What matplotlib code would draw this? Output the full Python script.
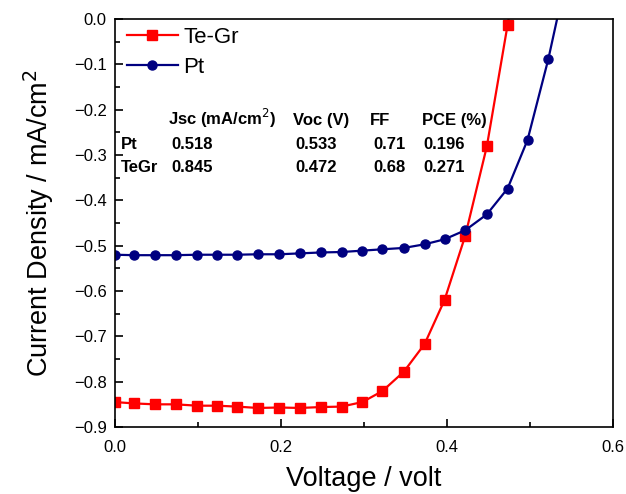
import numpy as np
import matplotlib.pyplot as plt
from matplotlib.ticker import MultipleLocator

plt.rcParams['font.family'] = ['Liberation Sans', 'DejaVu Sans']

# Voltage (V)
V = [0.000, 0.023, 0.048, 0.073, 0.099, 0.123, 0.147, 0.172, 0.198, 0.223,
     0.248, 0.273, 0.298, 0.322, 0.348, 0.373, 0.397, 0.422, 0.448, 0.473,
     0.497, 0.522, 0.547]

# Current density (mA/cm2)
J_tegr = [-0.845, -0.848, -0.850, -0.850, -0.853, -0.853, -0.855, -0.858, -0.857, -0.858,
          -0.856, -0.855, -0.845, -0.821, -0.778, -0.717, -0.620, -0.478, -0.281, -0.013,
          0.25]
J_pt = [-0.520, -0.521, -0.521, -0.521, -0.520, -0.520, -0.520, -0.519, -0.519, -0.517,
        -0.515, -0.514, -0.511, -0.508, -0.505, -0.497, -0.486, -0.466, -0.431, -0.374,
        -0.267, -0.089, 0.12]

table_cols = ['Jsc (mA/cm$^2$)', 'Voc (V)', 'FF', 'PCE (%)']
table_rows = ['Pt', 'TeGr']
table_vals = [['0.518', '0.533', '0.71', '0.196'],
              ['0.845', '0.472', '0.68', '0.271']]

fig = plt.figure(figsize=(6.26, 4.94), dpi=100)
ax = fig.add_axes([115/626, 1-427/494, 498/626, 408/494])

ax.plot(V[:len(J_tegr)], J_tegr, '-s', color='#ff0000', lw=1.6, ms=6.5, label='Te-Gr')
ax.plot(V[:len(J_pt)], J_pt, '-o', color='#000080', lw=1.6, ms=6.5, label='Pt')

ax.set_xlim(0, 0.6)
ax.set_ylim(-0.9, 0.0)
ax.xaxis.set_major_locator(MultipleLocator(0.2))
ax.xaxis.set_minor_locator(MultipleLocator(0.1))
ax.yaxis.set_major_locator(MultipleLocator(0.1))
ax.yaxis.set_minor_locator(MultipleLocator(0.05))
ax.tick_params(which='both', direction='in', top=False, right=False, labelsize=12, width=1.2)
ax.tick_params(which='major', length=6)
ax.tick_params(which='minor', length=3.5)
ax.tick_params(axis='x', pad=9)
ax.tick_params(axis='y', pad=6)

def fmt(v, p):
    s = f'{v:.1f}'
    if s == '-0.0':
        s = '0.0'
    return s.replace('-', '\u2212')

ax.xaxis.set_major_formatter(plt.FuncFormatter(fmt))
ax.yaxis.set_major_formatter(plt.FuncFormatter(fmt))
for s in ax.spines.values():
    s.set_linewidth(1.2)

ax.set_xlabel('Voltage / volt', fontsize=19.5, labelpad=8)
ax.set_ylabel('Current Density / mA/cm$^2$', fontsize=19.5, labelpad=13)

ax.legend(loc='upper left', frameon=False, fontsize=16, handlelength=2.3,
          borderaxespad=0.0, labelspacing=0.4, handletextpad=0.25,
          bbox_to_anchor=(0.006, 1.003))

def axpos(px, py):
    return (px - 115) / 498, (427 - py) / 408

col_x = [168, 293, 370, 422]
val_x = [171, 295, 373, 423]
for cx, name in zip(col_x, table_cols):
    ax.text(*axpos(cx, 125), name, transform=ax.transAxes, fontsize=12,
            fontweight='bold', ha='left', va='baseline')
for r, (row, vals) in enumerate(zip(table_rows, table_vals)):
    py = 149 + r * 23
    ax.text(*axpos(121, py), row, transform=ax.transAxes, fontsize=12,
            fontweight='bold', ha='left', va='baseline')
    for vx, val in zip(val_x, vals):
        ax.text(*axpos(vx, py), val, transform=ax.transAxes, fontsize=12,
                fontweight='bold', ha='left', va='baseline')

fig.savefig('out.png', dpi=100)
